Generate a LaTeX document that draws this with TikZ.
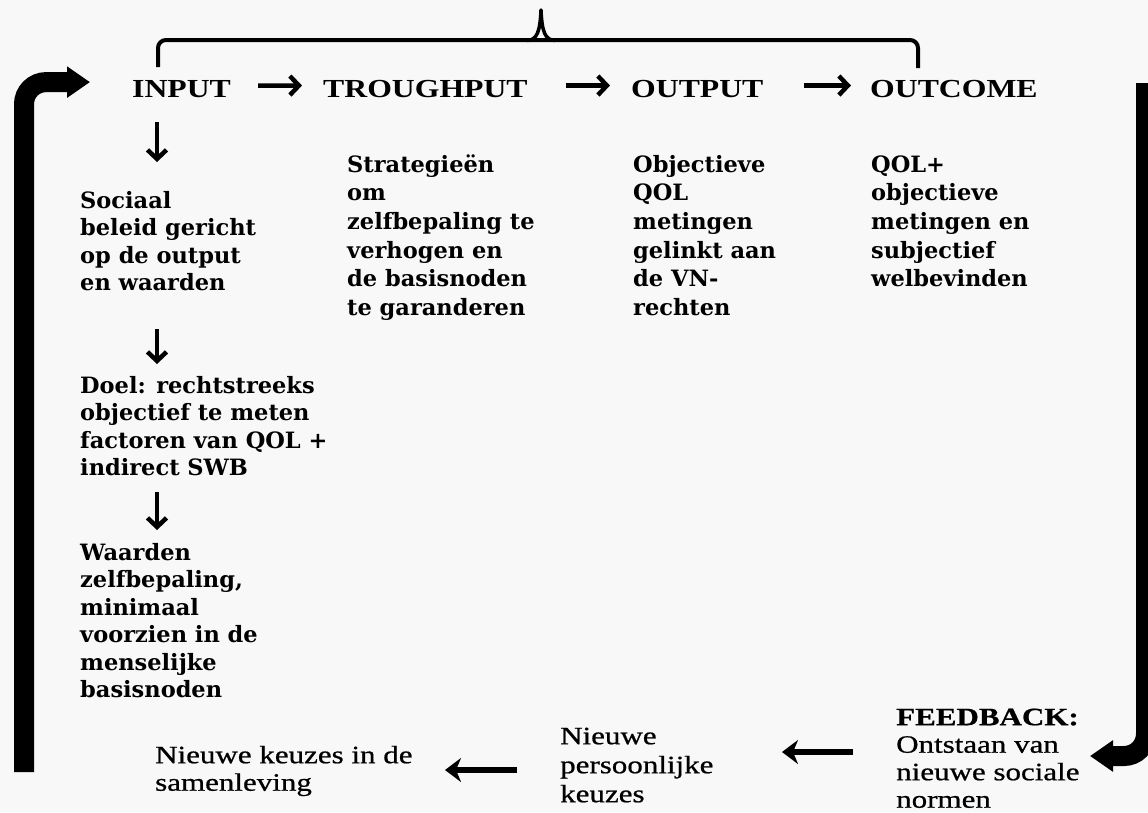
\documentclass[tikz,border=0pt]{standalone}
\usepackage{fontspec}
\setmainfont{Liberation Serif}
\newfontfamily\hdfont{Liberation Serif}[FakeStretch=1.22]
\newfontfamily\lowfont{Liberation Serif}[FakeStretch=1.24,FakeBold=0.7]
\newfontfamily\bodyfont{DejaVu Serif}
\usetikzlibrary{arrows.meta}
\newcommand\myrule{\rule{0pt}{20pt}}
\definecolor{bg}{HTML}{F8F8F8}
\tikzset{
  hdr/.style={font=\hdfont\bfseries\fontsize{26}{30}\selectfont, inner sep=0pt, anchor=base west},
  bodyA/.style={font=\bodyfont\bfseries\fontsize{22.5}{27.5}\selectfont, align=left, inner sep=0pt, anchor=north west},
  bodyB/.style={font=\bodyfont\bfseries\fontsize{22.5}{28.6}\selectfont, align=left, inner sep=0pt, anchor=north west},
  low/.style={font=\lowfont\fontsize{25}{27.5}\selectfont, align=left, inner sep=0pt, anchor=north west},
  thinarrow/.style={line width=4.5pt, -{Straight Barb[length=9pt,width=19pt,line width=4.5pt]}},
  botarrow/.style={line width=5.5pt, -{Stealth[length=16pt,width=24pt,inset=5pt]}},
  thickarrow/.style={line width=20pt, rounded corners=22pt, -{Triangle[length=23pt,width=30pt]}},
  bracel/.style={line width=4pt, rounded corners=8pt}
}
\begin{document}
\begin{tikzpicture}[x=1pt,y=-1pt]
\clip (0,0) rectangle (1148,812);
\fill[bg] (0,0) rectangle (1148,812);

% headers
\node[hdr] (in) at (132,97) {INPUT};
\node[hdr] (tr) at (323,97) {TROUGHPUT};
\node[hdr] (op) at (631,97) {OUTPUT};
\node[hdr] (oc) at (870,97) {OUTCOME};

% column texts
\node[bodyA] (c1a) at (80,188) {\myrule Sociaal\\beleid gericht\\op de output\\en waarden};
\node[bodyA] (c1b) at (80,373) {\myrule Doel: rechtstreeks\\objectief te meten\\factoren van QOL +\\indirect SWB};
\node[bodyA] (c1c) at (80,540) {\myrule Waarden\\zelfbepaling,\\minimaal\\voorzien in de\\menselijke\\basisnoden};
\node[bodyB] (c2) at (347,152) {\myrule Strategieën\\om\\zelfbepaling te\\verhogen en\\de basisnoden\\te garanderen};
\node[bodyB] (c3) at (633,152) {\myrule Objectieve\\QOL\\metingen\\gelinkt aan\\de VN-\\rechten};
\node[bodyB] (c4) at (871,152) {\myrule QOL+\\objectieve\\metingen en\\subjectief\\welbevinden};

% bottom texts
\node[low] (fb) at (896,705) {\myrule\textbf{FEEDBACK:}\\Ontstaan van\\nieuwe sociale\\normen};
\node[low, font=\lowfont\fontsize{25}{29}\selectfont] (np) at (560,724) {\myrule Nieuwe\\persoonlijke\\keuzes};
\node[low] (nk) at (155,743) {\myrule Nieuwe keuzes in de\\samenleving};

% header arrows
\draw[thinarrow, shorten <=27pt, shorten >=21pt] ([yshift=3pt]in.east) -- ([yshift=3pt]tr.west);
\draw[thinarrow, shorten <=38pt, shorten >=21pt] ([yshift=3pt]tr.east) -- ([yshift=3pt]op.west);
\draw[thinarrow, shorten <=40pt, shorten >=19pt] ([yshift=3pt]op.east) -- ([yshift=3pt]oc.west);

% down arrows
\draw[thinarrow] ([xshift=25pt,yshift=-25pt]in.south west) -- ([xshift=77pt,yshift=26pt]c1a.north west);
\draw[thinarrow] ([xshift=77pt,yshift=-38pt]c1a.south west) -- ([xshift=77pt,yshift=9pt]c1b.north west);
\draw[thinarrow] ([xshift=77pt,yshift=-16pt]c1b.south west) -- ([xshift=77pt,yshift=10pt]c1c.north west);

% bottom arrows
\draw[botarrow] ([xshift=-43pt,yshift=-47pt]fb.north west) -- ([xshift=222pt,yshift=-28pt]np.north west);
\draw[botarrow] ([xshift=-43pt,yshift=-46pt]np.north west) -- ([xshift=290pt,yshift=-27pt]nk.north west);

% thick loop arrows
\coordinate (lb) at (24,772);
\draw[thickarrow] (lb) |- ([xshift=-42pt,yshift=6.5pt]in.west);
\coordinate (rt) at (1146,83);
\coordinate (rb) at (1090,756);
\draw[thickarrow] (rt) |- (rb);

% brace
\draw[bracel] (158,67) -- (158,40) -- (918,40) -- (918,68);
\draw[line width=3.5pt, line join=round] (527,40.5) .. controls (537,40) and (540,32) .. (541,10) .. controls (542,32) and (545,40) .. (555,40.5);
\end{tikzpicture}
\end{document}
